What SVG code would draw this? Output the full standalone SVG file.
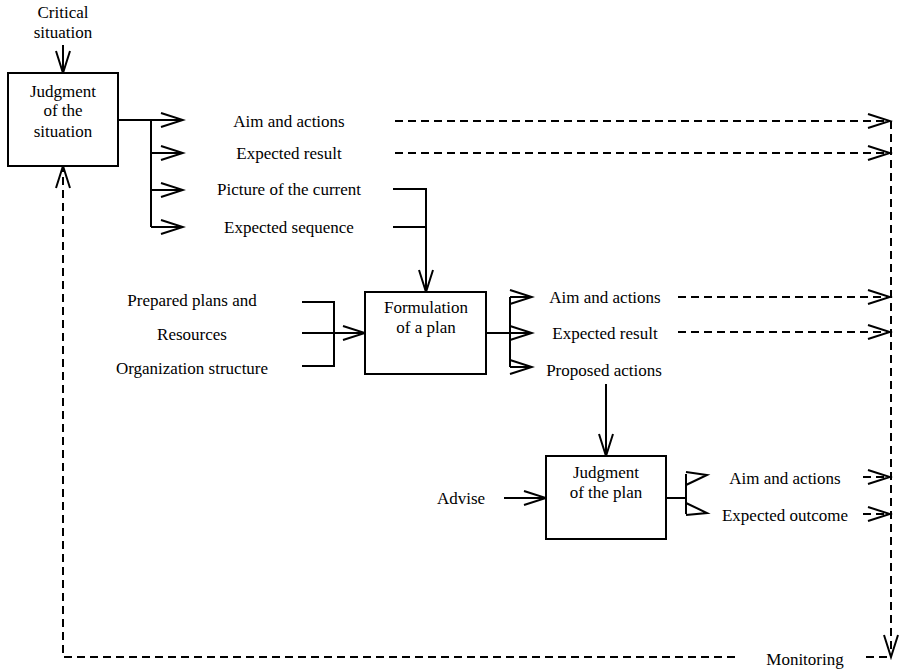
<svg xmlns="http://www.w3.org/2000/svg" width="900" height="669" viewBox="0 0 900 669">
<defs>
<style>
text{font-family:"Liberation Serif","Times New Roman",serif;font-size:17px;fill:#000;text-anchor:middle}
.box{fill:#fff;stroke:#000;stroke-width:2}
.ln{fill:none;stroke:#000;stroke-width:2}
.dash{fill:none;stroke:#000;stroke-width:2;stroke-dasharray:8 5}
</style>
<marker id="arr" markerUnits="userSpaceOnUse" markerWidth="26" markerHeight="18" viewBox="0 0 26 18" refX="23" refY="9" orient="auto">
<path d="M1,2 L23,9 L1,16" fill="none" stroke="#000" stroke-width="2" stroke-dasharray="none"/>
</marker>
</defs>
<rect width="900" height="669" fill="#fff"/>

<g id="connectors">
<path class="ln" d="M63,45 V73" marker-end="url(#arr)"/>
<path class="ln" d="M118,120 H151 V227"/>
<path class="ln" d="M151,120 H183" marker-end="url(#arr)"/>
<path class="ln" d="M151,153 H183" marker-end="url(#arr)"/>
<path class="ln" d="M151,190 H183" marker-end="url(#arr)"/>
<path class="ln" d="M151,227 H183" marker-end="url(#arr)"/>
<path class="ln" d="M393,189 H426 V292" marker-end="url(#arr)"/>
<path class="ln" d="M393,227 H426"/>
<path class="ln" d="M302,302 H334 V366 H302"/>
<path class="ln" d="M302,333 H365" marker-end="url(#arr)"/>
<path class="ln" d="M486,333 H510"/>
<path class="ln" d="M510,297 V367"/>
<path class="ln" d="M510,297 H532" marker-end="url(#arr)"/>
<path class="ln" d="M510,333 H532" marker-end="url(#arr)"/>
<path class="ln" d="M510,367 H532" marker-end="url(#arr)"/>
<path class="ln" d="M606,384 V456" marker-end="url(#arr)"/>
<path class="ln" d="M504,498 H546" marker-end="url(#arr)"/>
<path class="ln" d="M666,498 H686"/>
<path class="ln" d="M686,474 V514"/>
<path class="ln" d="M686,472 L707,475 L686,485"/>
<path class="ln" d="M686,503 L707,513 L686,515"/>
<path class="dash" d="M395,121 H890" marker-end="url(#arr)"/>
<path class="dash" d="M395,153 H890" marker-end="url(#arr)"/>
<path class="dash" d="M678,297 H890" marker-end="url(#arr)"/>
<path class="dash" d="M678,332 H890" marker-end="url(#arr)"/>
<path class="dash" d="M863,477 H890" marker-end="url(#arr)"/>
<path class="dash" d="M863,514 H890" marker-end="url(#arr)"/>
<path class="dash" d="M891,121 V657" marker-end="url(#arr)"/>
<path class="dash" d="M866,657 H889"/>
<path class="dash" d="M735,657 H63 V166" marker-end="url(#arr)"/>
</g>

<g id="critical-situation">
<text x="63" y="18">Critical</text>
<text x="63" y="38">situation</text>
</g>

<g id="judgment-situation">
<rect class="box" x="8" y="73" width="110" height="93"/>
<text x="63" y="97">Judgment</text>
<text x="63" y="116">of the</text>
<text x="63" y="137">situation</text>
</g>

<g id="labels-situation">
<text x="289" y="127">Aim and actions</text>
<text x="289" y="159">Expected result</text>
<text x="289" y="195">Picture of the current</text>
<text x="289" y="233">Expected sequence</text>
</g>

<g id="inputs-plan">
<text x="192" y="306">Prepared plans and</text>
<text x="192" y="340">Resources</text>
<text x="192" y="374">Organization structure</text>
</g>

<g id="formulation-plan">
<rect class="box" x="365" y="292" width="121" height="82"/>
<text x="426" y="313">Formulation</text>
<text x="426" y="333">of a plan</text>
</g>

<g id="labels-plan">
<text x="605" y="303">Aim and actions</text>
<text x="605" y="339">Expected result</text>
<text x="604" y="376">Proposed actions</text>
</g>

<g id="advise">
<text x="461" y="504">Advise</text>
</g>

<g id="judgment-plan">
<rect class="box" x="546" y="456" width="120" height="83"/>
<text x="606" y="478">Judgment</text>
<text x="606" y="498">of the plan</text>
</g>

<g id="labels-judgment">
<text x="785" y="484">Aim and actions</text>
<text x="785" y="521">Expected outcome</text>
</g>

<g id="monitoring">
<text x="805" y="665">Monitoring</text>
</g>
</svg>
